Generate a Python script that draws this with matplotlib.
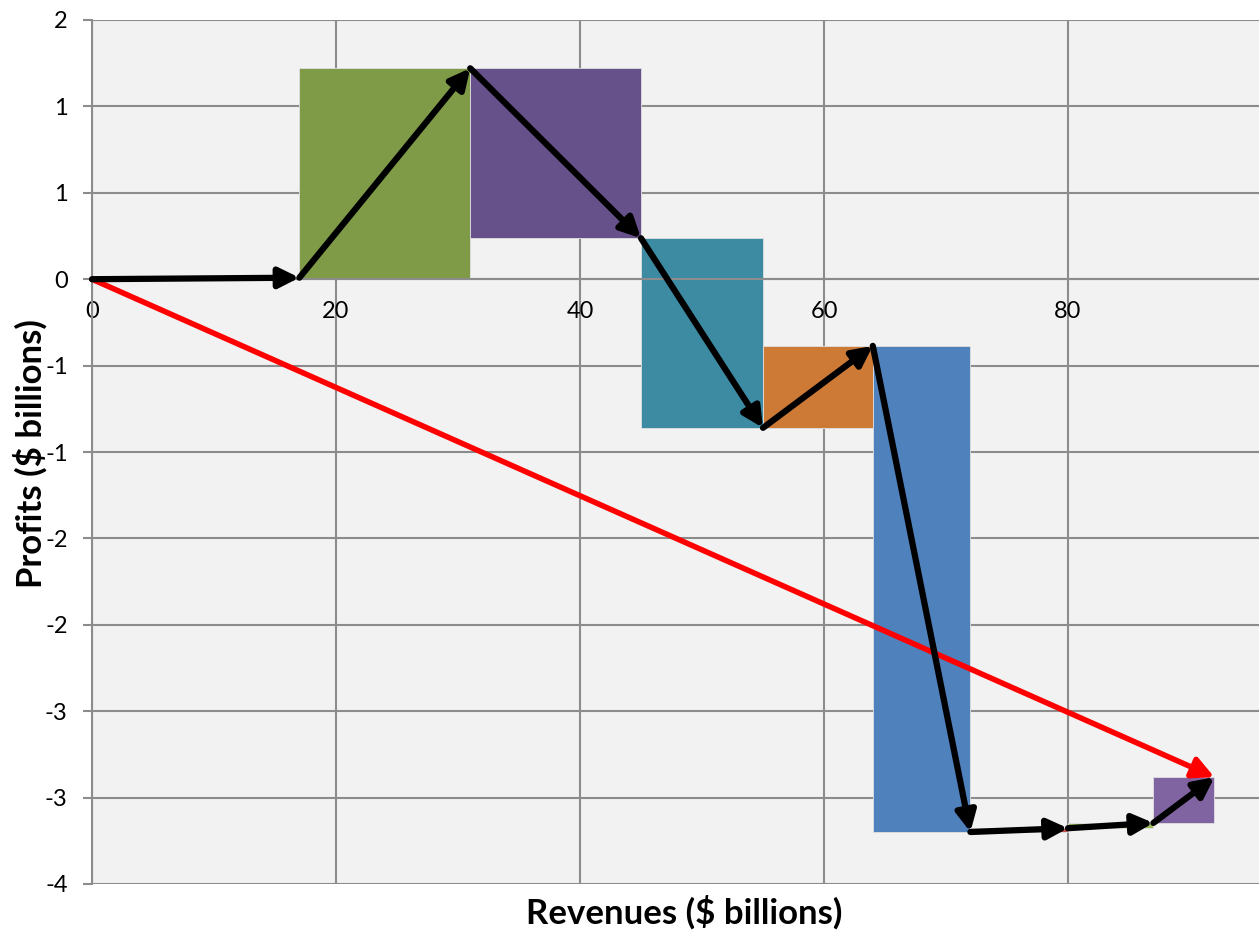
import numpy as np
import matplotlib
matplotlib.use('Agg')
import matplotlib.pyplot as plt
from matplotlib.ticker import FuncFormatter

plt.rcParams['font.family'] = ['Lato', 'DejaVu Sans']

# Revenue (width) and profit (height) of each business unit, in $ billions
revenues = [17, 14, 14, 10, 9, 8, 8, 7, 5]
profits = [0.01, 1.385, -1.124, -1.254, 0.542, -3.215, 0.025, 0.035, 0.302]
colors = ['#9C3E3B', '#7F9B48', '#67518A', '#3C8BA3', '#CD7A37',
          '#4F81BD', '#C0504D', '#9BBB59', '#8064A2']

x_ticks = [0, 20, 40, 60, 80]
y_ticks = np.linspace(-4, 12 / 7, 11)

rev = np.array(revenues, dtype=float)
prof = np.array(profits, dtype=float)
x_end = np.cumsum(rev)
x_start = x_end - rev
y_end = np.cumsum(prof)
y_start = y_end - prof

fig = plt.figure(figsize=(12.59, 9.33), dpi=100)
ax = fig.add_axes([92 / 1259, 1 - 884 / 933, 1 - 92 / 1259, (884 - 20) / 933])
ax.set_facecolor('#F2F2F2')

grid_c = '#8C8C8C'
ax.set_xlim(0, (1259 - 92) / 12.2)
ax.set_ylim(-4, 12 / 7)
ax.set_xticks(x_ticks)
ax.set_yticks(y_ticks)
ax.yaxis.set_major_formatter(FuncFormatter(lambda v, p: '%d' % int(np.floor(v + 0.5))))
ax.grid(True, color=grid_c, lw=1.5, zorder=0)
ax.set_axisbelow(True)

for s in ['top', 'right']:
    ax.spines[s].set_visible(False)
ax.spines['left'].set_color(grid_c)
ax.spines['left'].set_linewidth(1.5)
ax.spines['bottom'].set_position(('data', 0))
ax.spines['bottom'].set_color(grid_c)
ax.spines['bottom'].set_linewidth(1.5)
ax.tick_params(axis='x', length=0, pad=16, labelsize=17)
ax.tick_params(axis='y', length=6.5, width=1.5, color=grid_c, pad=11, labelsize=17)

# Rectangles: width = revenue, height = profit, stacked from the running total
ax.bar(x_start, prof, width=rev, bottom=y_start, align='edge', color=colors,
       edgecolor='#E0E0E0', linewidth=0.6, zorder=2)

# Black arrows following the running totals
px = np.concatenate([[0], x_end])
py = np.concatenate([[0], y_end])
for i in range(len(revenues)):
    ax.annotate('', xy=(px[i + 1], py[i + 1]), xytext=(px[i], py[i]),
                arrowprops=dict(arrowstyle='-|>', color='black', lw=4.5,
                                mutation_scale=30, shrinkA=0, shrinkB=0),
                zorder=4)

# Red arrow for the overall total
ax.annotate('', xy=(x_end[-1], y_end[-1]), xytext=(0, 0),
            arrowprops=dict(arrowstyle='-|>', color='#FF0000', lw=4,
                            mutation_scale=32, shrinkA=0, shrinkB=0),
            zorder=3)

fig.text(684 / 1259, 1 - 912 / 933, 'Revenues ($ billions)',
         ha='center', va='center', fontsize=25, fontweight='bold')
fig.text(30 / 1259, 1 - 454 / 933, 'Profits ($ billions)', rotation=90,
         ha='center', va='center', fontsize=25, fontweight='bold')

fig.savefig('out.png', dpi=100, facecolor='white')
